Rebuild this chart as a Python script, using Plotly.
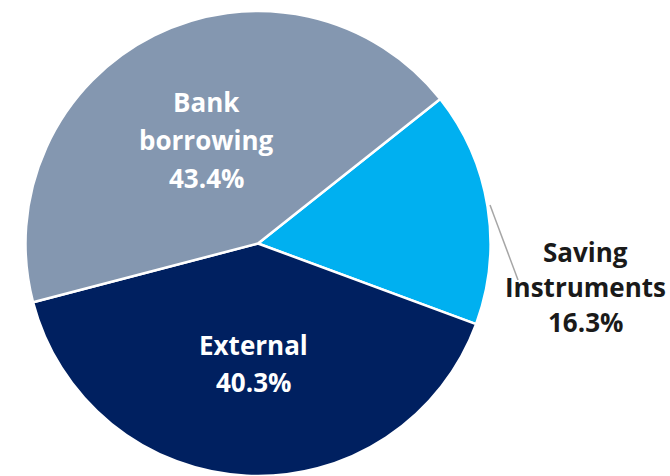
import plotly.graph_objects as go

labels = ["Saving<br>Instruments", "External", "Bank<br>borrowing"]
values = [16.3, 40.3, 43.4]
colors = ["#00B0F0", "#002060", "#8497B0"]
text_colors = ["#1a1a1a", "#ffffff", "#ffffff"]
label_pos = [(585, 287, 35), (253, 363.5, 37), (206, 140, 38)]  # pixel centre, line spacing

W, H = 670, 476
fig = go.Figure(go.Pie(
    labels=labels, values=values, sort=False, direction="clockwise",
    rotation=51.6, textinfo="none", hoverinfo="label+percent",
    marker=dict(colors=colors, line=dict(color="white", width=2.5)),
    domain=dict(x=[25 / W, 491 / W], y=[0, 465 / H]),
    showlegend=False,
))

anns = []
for lab, v, tc, (px, py, sp) in zip(labels, values, text_colors, label_pos):
    lines = lab.split("<br>") + [f"{v:.1f}%"]
    n = len(lines)
    for i, ln in enumerate(lines):
        ly = py + (i - (n - 1) / 2) * sp
        anns.append(dict(
            x=px / W, y=1 - ly / H, xref="paper", yref="paper",
            text=f"<b>{ln}</b>", showarrow=False,
            font=dict(family="Open Sans", size=26, color=tc),
            xanchor="center", yanchor="middle", align="center",
        ))

fig.update_layout(
    width=W, height=H, margin=dict(l=0, r=0, t=0, b=0),
    paper_bgcolor="white", plot_bgcolor="white",
    annotations=anns,
    shapes=[dict(type="line", xref="paper", yref="paper",
                 x0=490 / W, y0=1 - 205 / H, x1=518 / W, y1=1 - 280 / H,
                 line=dict(color="#A6A6A6", width=1.5))],
)
fig.write_html("out.html")
